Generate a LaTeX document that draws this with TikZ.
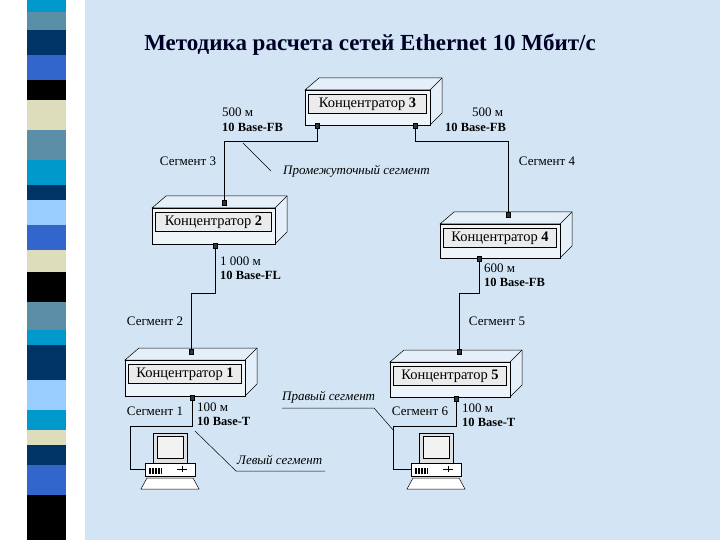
\documentclass[tikz,border=0pt]{standalone}
\usepackage{fontspec}
\setmainfont{Liberation Serif}
\begin{document}
\begin{tikzpicture}[x=1pt,y=-1pt,
  lbl/.style={font=\fontsize{13}{15}\selectfont,inner sep=0pt},
  lbll/.style={lbl,anchor=west},
  bl/.style={font=\fontsize{12.5}{15}\selectfont\bfseries,inner sep=0pt,anchor=west},
  it/.style={font=\fontsize{13}{15}\selectfont\itshape,inner sep=0pt,anchor=west},
  wire/.style={draw=black,line width=0.8pt},
  thin/.style={draw=black,line width=0.5pt},
  port/.style={fill=black!80,draw=black,minimum width=4pt,minimum height=5pt,inner sep=0pt},
  hubtxt/.style={draw=black,fill=black!8,font=\fontsize{14.5}{17}\selectfont,inner sep=2pt,minimum height=19pt}]
\definecolor{bgc}{HTML}{D3E5F5}
\fill[white] (0,0) rectangle (720,540);
\fill[bgc] (85,0) rectangle (720,540);
% stripe
\foreach \a/\b/\c in {0/12/0099CC,12/30/5B8FA8,30/55/003366,55/80/3366CC,80/100/000000,100/130/DDDDBB,130/160/5B8FA8,160/185/0099CC,185/200/003366,200/225/99CCFF,225/250/3366CC,250/272/DDDDBB,272/302/000000,302/330/5B8FA8,330/345/0099CC,345/380/003366,380/410/99CCFF,410/430/0099CC,430/445/DDDDBB,445/465/003366,465/495/3366CC,495/540/000000}{
  \definecolor{sc}{HTML}{\c}\fill[sc] (27,\a) rectangle (66,\b);}
\useasboundingbox (0,0) rectangle (720,540);
\node[font=\fontsize{23}{26}\selectfont\bfseries,text=black!85!blue] (title) at (370,45) {Методика расчета сетей Ethernet 10 Мбит/с};
% hubs
\newcommand{\hub}[6]{%
  \draw[thin,fill=bgc!60!white] (#1,#2) -- (#1+14,#2-12) -- (#3+12,#2-12) -- (#3+12,#4-12) -- (#3,#4) -- (#3,#2) -- cycle;
  \draw[thin] (#3,#2) -- (#3+12,#2-12);
  \draw[thin,fill=bgc!40!white] (#1,#2) rectangle (#3,#4);
  \node[hubtxt,minimum width=#3-#1-7pt] (#5) at ({(#1+#3)/2},{#2+14}) {#6};}
\hub{305}{90}{430}{125}{h3}{Концентратор \textbf{3}}
\hub{152}{208}{275}{244}{h2}{Концентратор \textbf{2}}
\hub{440}{224}{560}{258}{h4}{Концентратор \textbf{4}}
\hub{125}{360}{245}{396}{h1}{Концентратор \textbf{1}}
\hub{390}{362}{510}{397}{h5}{Концентратор \textbf{5}}
% ports
\node[port] (p3a) at (317,126) {}; \node[port] (p3b) at (415,126) {};
\node[port] (p2t) at (224,203) {}; \node[port] (p2b) at (215,246) {};
\node[port] (p4t) at (508,215) {}; \node[port] (p4b) at (479,259) {};
\node[port] (p1t) at (191,352) {}; \node[port] (p1b) at (192,398) {};
\node[port] (p5t) at (459,352) {}; \node[port] (p5b) at (456,399) {};
\draw[wire] (p3a) |- (224,141) -- (p2t);
\draw[wire] (p3b) |- (508,141) -- (p4t);
\draw[wire] (p2b) |- (191,293) -- (p1t);
\draw[wire] (p4b) |- (459,293) -- (p5t);
% computers
\newcommand{\comp}[3]{%
  \draw[thin,fill=black!12] (#1+8,#2) rectangle (#1+42,#2+30);
  \draw[thin,fill=black!5] (#1+12,#2+3) rectangle (#1+38,#2+25);
  \draw[thin,fill=white] (#1,#2+30) rectangle (#1+50,#2+43);
  \foreach \k in {0,...,8}{\draw[thin] (#1+4+\k*1.5,#2+35) -- (#1+4+\k*1.5,#2+41);}
  \draw[thin] (#1+32,#2+36) -- (#1+42,#2+36); \draw[thin] (#1+37,#2+33) -- (#1+37,#2+39);
  \draw[thin,fill=white] (#1-4,#2+56) -- (#1+2,#2+45) -- (#1+48,#2+45) -- (#1+54,#2+56) -- cycle;
  \coordinate (#3) at (#1,#2+36);}
\comp{145}{433}{c1}
\comp{411}{433}{c2}
\draw[wire] (p1b) |- (130,426) |- (c1);
\draw[wire] (p5b) |- (393,426) |- (c2);
% labels
\node[lbll] (l1) at (222,112) {500 м}; \node[bl] (l2) at (222,127) {10 Base-FB};
\node[lbll] (l3) at (472,112) {500 м}; \node[bl] (l4) at (445,127) {10 Base-FB};
\node[lbl] (s3) at (188,161) {Сегмент 3};
\node[lbl] (s4) at (547,161) {Сегмент 4};
\node[it] (ps) at (283,171) {Промежуточный сегмент};
\draw[thin] (243,143) -- (271,171);
\node[lbll] (l5) at (220,261) {1 000 м}; \node[bl] (l6) at (220,275) {10 Base-FL};
\node[lbll] (l7) at (484,268) {600 м}; \node[bl] (l8) at (484,282) {10 Base-FB};
\node[lbl] (s2) at (155,321) {Сегмент 2};
\node[lbl] (s5) at (497,321) {Сегмент 5};
\node[lbl] (s1) at (155,411) {Сегмент 1};
\node[lbll] (l9) at (197,407) {100 м}; \node[bl] (l10) at (197,421) {10 Base-T};
\node[lbl] (s6) at (420,411) {Сегмент 6};
\node[lbll] (l11) at (462,408) {100 м}; \node[bl] (l12) at (462,422) {10 Base-T};
\node[it] (rs) at (282,397) {Правый сегмент};
\draw[thin] (282,408) -- (374,408) -- (394,431);
\node[it] (ls) at (237,460) {Левый сегмент};
\draw[thin] (195,431) -- (236,471) -- (325,471);
\end{tikzpicture}
\end{document}
